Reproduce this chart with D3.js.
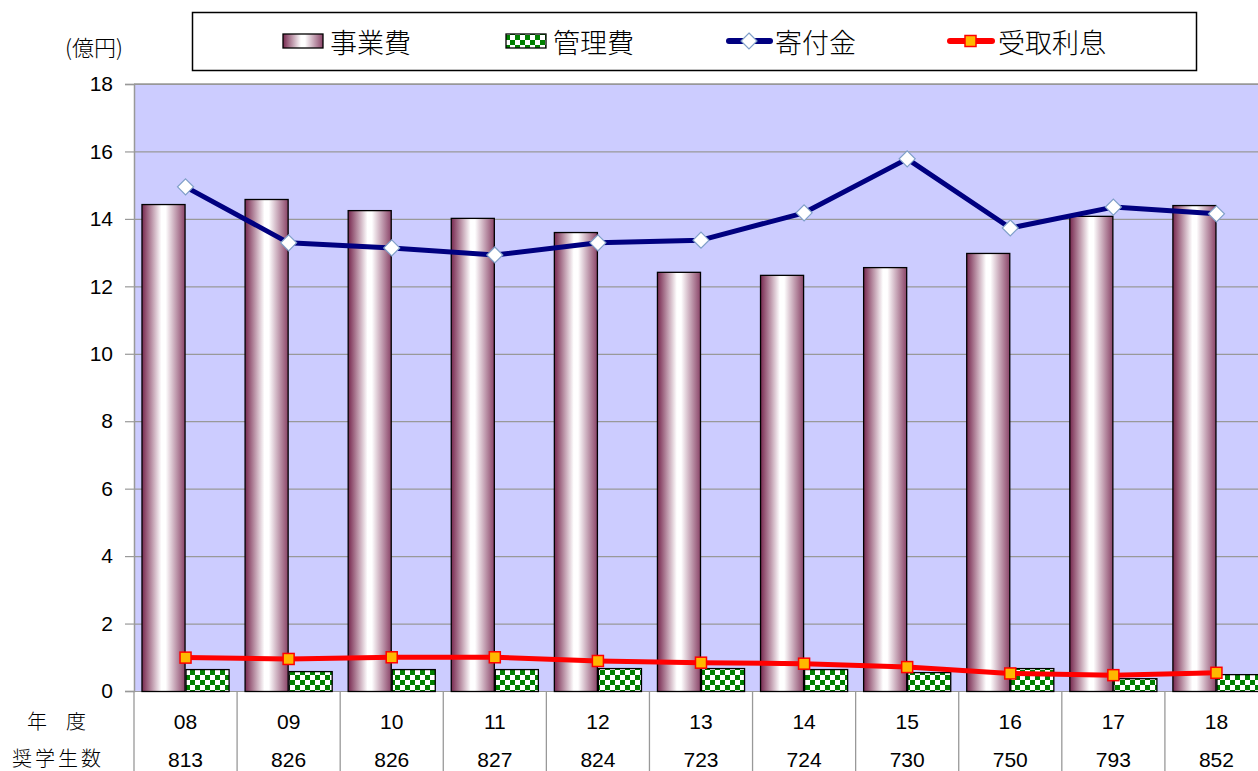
<!DOCTYPE html>
<html><head><meta charset="utf-8">
<script src="https://cdn.jsdelivr.net/npm/d3@7"></script>
<style>
body{margin:0;background:#fff;}
svg{display:block;}
text{font-family:"Liberation Sans",Arial,sans-serif;}
.jp{font-family:"Noto Sans CJK JP","Noto Sans CJK SC",sans-serif;font-weight:300;}
</style></head><body>
<svg id="c" width="1258" height="771"></svg>
<script>
const years = ["08","09","10","11","12","13","14","15","16","17","18"];
const students = ["813","826","826","827","824","723","724","730","750","793","852"];
const jigyohi = [14.44,14.59,14.26,14.03,13.61,12.43,12.34,12.57,12.99,14.09,14.41];
const kanrihi = [0.65,0.59,0.65,0.65,0.68,0.68,0.65,0.56,0.68,0.38,0.50];
const kifukin = [14.95,13.29,13.14,12.93,13.29,13.37,14.18,15.78,13.73,14.35,14.15];
const rishi = [0.99,0.95,1.00,1.00,0.89,0.84,0.81,0.71,0.52,0.47,0.54];
const yTicks = [0,2,4,6,8,10,12,14,16,18];
const seriesNames = ["事業費","管理費","寄付金","受取利息"];
const unitLabel = "(億円)";
const rowLabels = ["年","度","奨学生数"];

const svg = d3.select("#c");
const L = 134, R = 1268, T = 84, B = 691;
const x = d3.scaleBand().domain(years).range([L, R]);
const xi = d3.scaleBand().domain(["a","b"]).range([0, x.bandwidth()]).paddingOuter(0.17);
const y = d3.scaleLinear().domain([0,18]).range([B, T]);

const defs = svg.append("defs");
const g = defs.append("linearGradient").attr("id","barGrad").attr("x1","0").attr("x2","1").attr("y1","0").attr("y2","0");
g.append("stop").attr("offset","0%").attr("stop-color","#77284f");
g.append("stop").attr("offset","45%").attr("stop-color","#ffffff");
g.append("stop").attr("offset","55%").attr("stop-color","#ffffff");
g.append("stop").attr("offset","100%").attr("stop-color","#8a4468");
const p = defs.append("pattern").attr("id","chk").attr("patternUnits","userSpaceOnUse").attr("width",10).attr("height",10);
p.append("rect").attr("width",10).attr("height",10).attr("fill","#ffffff");
p.append("rect").attr("width",5).attr("height",5).attr("fill","#008000");
p.append("rect").attr("x",5).attr("y",5).attr("width",5).attr("height",5).attr("fill","#008000");

// plot background
svg.append("rect").attr("x",L).attr("y",T).attr("width",R-L).attr("height",B-T).attr("fill","#ccccff");

// gridlines
svg.append("g").attr("transform",`translate(${L},0)`)
  .call(d3.axisLeft(y).tickValues(yTicks).tickSize(-(R-L)).tickFormat(""))
  .call(s=>s.select(".domain").remove())
  .call(s=>s.selectAll("line").attr("stroke","#999999").attr("stroke-width",1.2));

// y axis
const ya = svg.append("g").attr("transform",`translate(${L},0)`)
  .call(d3.axisLeft(y).tickValues(yTicks).tickSize(9).tickPadding(12).tickFormat(d3.format("d")));
ya.select(".domain").attr("stroke","#999999").attr("stroke-width",1.5);
ya.selectAll("line").attr("stroke","#999999").attr("stroke-width",1.2);
ya.selectAll("text").attr("font-size",21).attr("fill","#000").attr("font-family","Liberation Sans, Arial, sans-serif");

// bars
svg.append("g").selectAll("rect").data(years).join("rect")
  .attr("x",(d)=>x(d)+xi("a")+0.5).attr("y",(d,i)=>y(jigyohi[i])+0.5)
  .attr("width",xi.bandwidth()-1).attr("height",(d,i)=>y(0)-y(jigyohi[i]))
  .attr("fill","url(#barGrad)").attr("stroke","#000").attr("stroke-width",1.3);
svg.append("g").selectAll("rect").data(years).join("rect")
  .attr("x",(d)=>x(d)+xi("b")+0.5).attr("y",(d,i)=>y(kanrihi[i])+0.5)
  .attr("width",xi.bandwidth()-1).attr("height",(d,i)=>y(0)-y(kanrihi[i]))
  .attr("fill","url(#chk)").attr("stroke","#000").attr("stroke-width",1.3);

const cx = d => x(d) + x.bandwidth()/2;
// kifukin line
svg.append("path").datum(kifukin)
  .attr("d", d3.line().x((d,i)=>cx(years[i])).y(d=>y(d)))
  .attr("fill","none").attr("stroke","#000080").attr("stroke-width",5).attr("stroke-linejoin","round");
svg.append("g").selectAll("path").data(kifukin).join("path")
  .attr("transform",(d,i)=>`translate(${cx(years[i])},${y(d)})`)
  .attr("d","M0,-8L8,0L0,8L-8,0Z").attr("fill","#fff").attr("stroke","#7f9fc8").attr("stroke-width",1.2);
// rishi line
svg.append("path").datum(rishi)
  .attr("d", d3.line().x((d,i)=>cx(years[i])).y(d=>y(d)))
  .attr("fill","none").attr("stroke","#ff0000").attr("stroke-width",5).attr("stroke-linejoin","round");
svg.append("g").selectAll("rect").data(rishi).join("rect")
  .attr("x",(d,i)=>cx(years[i])-5.5).attr("y",d=>y(d)-5.5).attr("width",11).attr("height",11)
  .attr("fill","#ffb800").attr("stroke","#ff0000").attr("stroke-width",1.5);

// top border of plot
svg.append("line").attr("x1",L).attr("x2",R).attr("y1",T).attr("y2",T).attr("stroke","#999").attr("stroke-width",1.5);

// table below axis
const tbl = svg.append("g");
tbl.selectAll("line.v").data(years).join("line")
  .attr("x1",d=>x(d)).attr("x2",d=>x(d)).attr("y1",B).attr("y2",771)
  .attr("stroke","#999").attr("stroke-width",1.3);
tbl.selectAll("text.yr").data(years).join("text").attr("class","yr")
  .attr("x",d=>cx(d)).attr("y",729).attr("text-anchor","middle").attr("font-size",21).text(d=>d);
tbl.selectAll("text.st").data(students).join("text").attr("class","st")
  .attr("x",(d,i)=>cx(years[i])).attr("y",767).attr("text-anchor","middle").attr("font-size",21).text(d=>d);
tbl.append("text").attr("class","jp").attr("x",37).attr("y",729).attr("text-anchor","middle").attr("font-size",20).text(rowLabels[0]);
tbl.append("text").attr("class","jp").attr("x",76).attr("y",729).attr("text-anchor","middle").attr("font-size",20).text(rowLabels[1]);
tbl.append("text").attr("class","jp").attr("x",58).attr("y",766).attr("text-anchor","middle").attr("font-size",20).attr("letter-spacing",3).text(rowLabels[2]);

// unit label
svg.append("text").attr("class","jp").attr("x",94).attr("y",56).attr("text-anchor","middle").attr("font-size",22).text(unitLabel);

// legend
const lg = svg.append("g");
lg.append("rect").attr("x",192.5).attr("y",12.5).attr("width",1004).attr("height",58).attr("fill","#fff").attr("stroke","#000").attr("stroke-width",1.5);
lg.append("rect").attr("x",283).attr("y",34).attr("width",40).attr("height",14).attr("fill","url(#barGrad)").attr("stroke","#000").attr("stroke-width",1.3);
lg.append("rect").attr("x",506).attr("y",34).attr("width",40).attr("height",14).attr("fill","url(#chk)").attr("stroke","#000").attr("stroke-width",1.3);
lg.append("line").attr("x1",729).attr("x2",770).attr("y1",41).attr("y2",41).attr("stroke","#000080").attr("stroke-width",6).attr("stroke-linecap","round");
lg.append("path").attr("transform","translate(749,41)").attr("d","M0,-8L8,0L0,8L-8,0Z").attr("fill","#fff").attr("stroke","#7f9fc8").attr("stroke-width",1.2);
lg.append("line").attr("x1",950).attr("x2",992).attr("y1",41).attr("y2",41).attr("stroke","#ff0000").attr("stroke-width",6).attr("stroke-linecap","round");
lg.append("rect").attr("x",965).attr("y",35.5).attr("width",11).attr("height",11).attr("fill","#ffb800").attr("stroke","#ff0000").attr("stroke-width",1.5);
const lx = [330,553,775,998];
lg.selectAll("text").data(seriesNames).join("text").attr("class","jp")
  .attr("x",(d,i)=>lx[i]).attr("y",53).attr("font-size",27).attr("fill","#000").text(d=>d);
</script></body></html>
